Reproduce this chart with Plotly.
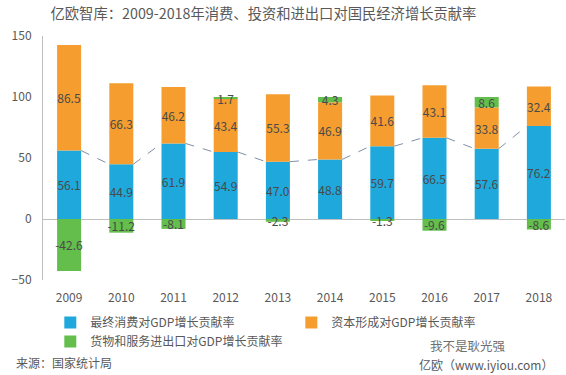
import plotly.graph_objects as go

years = ["2009", "2010", "2011", "2012", "2013", "2014", "2015", "2016", "2017", "2018"]
consumption = [56.1, 44.9, 61.9, 54.9, 47.0, 48.8, 59.7, 66.5, 57.6, 76.2]
capital = [86.5, 66.3, 46.2, 43.4, 55.3, 46.9, 41.6, 43.1, 33.8, 32.4]
net_exports = [-42.6, -11.2, -8.1, 1.7, -2.3, 4.3, -1.3, -9.6, 8.6, -8.6]

names = ["最终消费对GDP增长贡献率", "资本形成对GDP增长贡献率", "货物和服务进出口对GDP增长贡献率"]
colors = ["#1FA8DC", "#F59E2F", "#63BE4B"]

FONT = "Microsoft YaHei, Noto Sans CJK SC, sans-serif"
GRAY = "#595959"
BAR_W = 0.46
xs = list(range(len(years)))

fig = go.Figure()
for vals, nm, col in zip([consumption, capital, net_exports], names, colors):
    fig.add_trace(go.Bar(
        x=xs, y=vals, name=nm, marker=dict(color=col, line=dict(width=0)),
        width=BAR_W, text=[f"{v:.1f}" for v in vals], textposition="inside",
        insidetextanchor="middle", textangle=0,
        textfont=dict(color="#4a4a4a", size=12, family=FONT),
        cliponaxis=False,
    ))

# series lines connecting tops of consumption bars
lx, ly = [], []
for i in range(len(xs) - 1):
    lx += [xs[i] + BAR_W / 2, xs[i + 1] - BAR_W / 2, None]
    ly += [consumption[i], consumption[i + 1], None]
fig.add_trace(go.Scatter(x=lx, y=ly, mode="lines", showlegend=False,
                         line=dict(color="#7F8FA6", width=1, dash="dash"), hoverinfo="skip"))

fig.update_layout(
    width=566, height=375, barmode="relative",
    margin=dict(l=43, r=1, t=36, b=95),
    paper_bgcolor="white", plot_bgcolor="white",
    font=dict(family=FONT, color=GRAY, size=12),
    uniformtext=dict(minsize=12, mode="show"),
    title=dict(text="亿欧智库：2009-2018年消费、投资和进出口对国民经济增长贡献率",
               x=0.4655, xanchor="center", y=0.962, yanchor="middle",
               font=dict(size=14.3, color=GRAY, family=FONT)),
    xaxis=dict(tickmode="array", tickvals=xs, ticktext=years, range=[-0.5, 9.5],
               showgrid=False, zeroline=False, showline=False, ticks="",
               tickfont=dict(size=12, color=GRAY), ticklabelstandoff=9, automargin=False),
    yaxis=dict(range=[-50, 150], tickvals=[-50, 0, 50, 100, 150], showgrid=False,
               zeroline=True, zerolinecolor="#BFBFBF", zerolinewidth=1,
               showline=True, linecolor="#BFBFBF", linewidth=1, ticks="",
               tickfont=dict(size=12, color=GRAY), ticklabelstandoff=8, automargin=False),
    legend=dict(orientation="h", x=0.014, xanchor="left", y=-0.115, yanchor="top",
                entrywidth=196, entrywidthmode="pixels", itemwidth=30,
                font=dict(size=12, color=GRAY), traceorder="normal", tracegroupgap=0),
    annotations=[
        dict(text="来源：国家统计局", xref="paper", yref="paper", x=-0.056, y=-0.34,
             xanchor="left", yanchor="middle", showarrow=False, font=dict(size=12, color=GRAY)),
        dict(text="亿欧（www.iyiou.com）", xref="paper", yref="paper", x=0.981, y=-0.345,
             xanchor="right", yanchor="middle", showarrow=False, font=dict(size=12, color=GRAY)),
        dict(text="我不是耿光强", xref="paper", yref="paper", x=0.814, y=-0.268,
             xanchor="center", yanchor="middle", showarrow=False, font=dict(size=12.5, color="#707070")),
    ],
)

fig.write_html("out.html", config={"displayModeBar": False},
               post_script="document.body.style.margin='0';document.body.style.overflow='hidden';")
